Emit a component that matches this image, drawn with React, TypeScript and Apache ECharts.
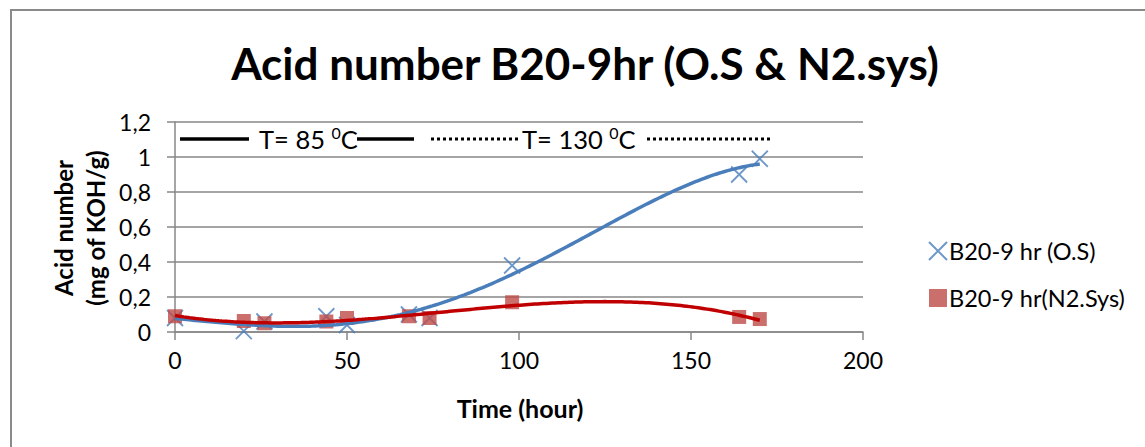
import React, { useEffect, useRef } from "react";
import * as echarts from "echarts";

const timeOS = [0, 20, 26, 44, 50, 68, 74, 98, 164, 170];
const acidOS = [0.08, 0.005, 0.06, 0.09, 0.04, 0.1, 0.08, 0.38, 0.9, 0.99];
const timeN2 = [0, 20, 26, 44, 50, 68, 74, 98, 164, 170];
const acidN2 = [0.09, 0.063, 0.05, 0.06, 0.08, 0.09, 0.08, 0.17, 0.086, 0.074];
const seriesNames = ["B20-9 hr (O.S)", "B20-9 hr(N2.Sys)"];
const xTicks = [0, 200, 50];
const yTicks = [0, 1.2, 0.2];
const titleText = "Acid number B20-9hr (O.S & N2.sys)";

// least-squares polynomial trendline (like the spreadsheet's)
function polyFit(xs: number[], ys: number[], deg: number) {
  const s = 100;
  const n = deg + 1;
  const A: number[][] = Array.from({ length: n }, () => new Array(n + 1).fill(0));
  xs.forEach((xv, k) => {
    const x = xv / s;
    for (let i = 0; i < n; i++) {
      for (let j = 0; j < n; j++) A[i][j] += Math.pow(x, i + j);
      A[i][n] += Math.pow(x, i) * ys[k];
    }
  });
  for (let c = 0; c < n; c++) {
    let p = c;
    for (let r = c + 1; r < n; r++) if (Math.abs(A[r][c]) > Math.abs(A[p][c])) p = r;
    [A[c], A[p]] = [A[p], A[c]];
    for (let r = 0; r < n; r++) {
      if (r === c) continue;
      const f = A[r][c] / A[c][c];
      for (let j = c; j <= n; j++) A[r][j] -= f * A[c][j];
    }
  }
  const coef = A.map((row, i) => row[n] / row[i]);
  return (xv: number) => coef.reduce((acc, cv, i) => acc + cv * Math.pow(xv / s, i), 0);
}

function trend(xs: number[], ys: number[], deg: number) {
  const f = polyFit(xs, ys, deg);
  const lo = Math.min(...xs);
  const hi = Math.max(...xs);
  const out: number[][] = [];
  for (let k = 0; k <= 200; k++) {
    const xv = lo + ((hi - lo) * k) / 200;
    out.push([xv, f(xv)]);
  }
  return out;
}

const crossPath = "path://M0,0L10,10M10,0L0,10";

export default function App() {
  const ref = useRef<HTMLDivElement>(null);
  useEffect(() => {
    document.body.style.margin = "0";
    const chart = echarts.init(ref.current!, null, { renderer: "svg" });
    const gray = "#878787";
    const font = "Lato";
    const supRich = { s: { fontSize: 16, fontFamily: font, verticalAlign: "top", padding: [0, 0, 13, 0] } };
    chart.setOption({
      animation: false,
      backgroundColor: "#ffffff",
      title: {
        text: titleText,
        left: 580,
        top: 36,
        textAlign: "center",
        textStyle: { fontFamily: font, fontWeight: "bold", fontSize: 44, color: "#000" },
      },
      grid: { left: 175, top: 122, right: 282, bottom: 115, containLabel: false },
      xAxis: {
        type: "value",
        min: xTicks[0],
        max: xTicks[1],
        interval: xTicks[2],
        axisLine: { show: true, lineStyle: { color: gray, width: 1.5 } },
        axisTick: { show: true, length: 8, lineStyle: { color: gray, width: 1.5 } },
        splitLine: { show: false },
        axisLabel: { margin: 16, fontFamily: font, fontSize: 23, color: "#000" },
      },
      yAxis: {
        type: "value",
        min: yTicks[0],
        max: yTicks[1],
        interval: yTicks[2],
        axisLine: { show: true, lineStyle: { color: gray, width: 1.5 } },
        axisTick: { show: true, length: 8, lineStyle: { color: gray, width: 1.5 } },
        splitLine: { show: true, lineStyle: { color: gray, width: 1.5 } },
        axisLabel: {
          margin: 24,
          fontFamily: font,
          fontSize: 23,
          color: "#000",
          formatter: (v: number) => String(+v.toFixed(1)).replace(".", ","),
        },
      },
      legend: {
        orient: "vertical",
        left: 923,
        top: 234,
        itemGap: 23,
        itemWidth: 18,
        itemHeight: 18,
        data: seriesNames,
        textStyle: { fontFamily: font, fontSize: 23.5, color: "#000", padding: [0, 0, 0, -3] },
      },
      graphic: [
        { type: "rect", shape: { x: 11, y: 10, width: 1200, height: 500 }, style: { fill: "none", stroke: "#8a8a8a", lineWidth: 2 }, silent: true },
        { type: "line", shape: { x1: 180, y1: 139, x2: 249, y2: 139 }, style: { stroke: "#000", lineWidth: 3.5 } },
        { type: "line", shape: { x1: 357, y1: 139, x2: 414, y2: 139 }, style: { stroke: "#000", lineWidth: 3.5 } },
        { type: "line", shape: { x1: 431, y1: 139, x2: 521, y2: 139 }, style: { stroke: "#000", lineWidth: 3, lineDash: [3, 3] } },
        { type: "line", shape: { x1: 647, y1: 139, x2: 771, y2: 139 }, style: { stroke: "#000", lineWidth: 3, lineDash: [3, 3] } },
        {
          type: "text",
          x: 259,
          y: 139,
          style: { text: "T= 85 {s|0}C", fontFamily: font, fontSize: 25.5, fill: "#000", verticalAlign: "middle", rich: supRich },
        },
        {
          type: "text",
          x: 522,
          y: 139,
          style: { text: "T= 130 {s|0}C", fontFamily: font, fontSize: 25.5, fill: "#000", verticalAlign: "middle", rich: supRich },
        },
        {
          type: "text",
          x: 520,
          y: 408,
          style: { text: "Time (hour)", fontFamily: font, fontWeight: "bold", fontSize: 25, fill: "#000", align: "center", verticalAlign: "middle" },
        },
        {
          type: "text",
          x: 79,
          y: 228,
          rotation: Math.PI / 2,
          style: {
            text: "Acid number\n(mg of KOH/g)",
            fontFamily: font,
            fontWeight: "bold",
            fontSize: 24,
            lineHeight: 32,
            fill: "#000",
            align: "center",
            verticalAlign: "middle",
          },
        },
      ],
      series: [
        {
          name: seriesNames[0] + " trend",
          type: "line",
          data: trend(timeOS, acidOS, 4),
          showSymbol: false,
          symbol: "none",
          lineStyle: { color: "#4a7ebb", width: 3.5 },
          z: 3,
          silent: true,
        },
        {
          name: seriesNames[1] + " trend",
          type: "line",
          data: trend(timeN2, acidN2, 3),
          showSymbol: false,
          symbol: "none",
          lineStyle: { color: "#c00000", width: 3.5 },
          z: 4,
          silent: true,
        },
        {
          name: seriesNames[0],
          type: "scatter",
          data: timeOS.map((t, i) => [t, acidOS[i]]),
          symbol: crossPath,
          symbolSize: 16,
          itemStyle: { color: "rgba(0,0,0,0)", borderColor: "#4a7ebb", borderWidth: 1.8 },
          z: 2,
        },
        {
          name: seriesNames[1],
          type: "scatter",
          data: timeN2.map((t, i) => [t, acidN2[i]]),
          symbol: "rect",
          symbolSize: 14,
          itemStyle: { color: "#be4b48" },
          z: 2,
        },
      ],
    });
    return () => chart.dispose();
  }, []);
  return <div ref={ref} style={{ width: 1145, height: 447 }} />;
}
